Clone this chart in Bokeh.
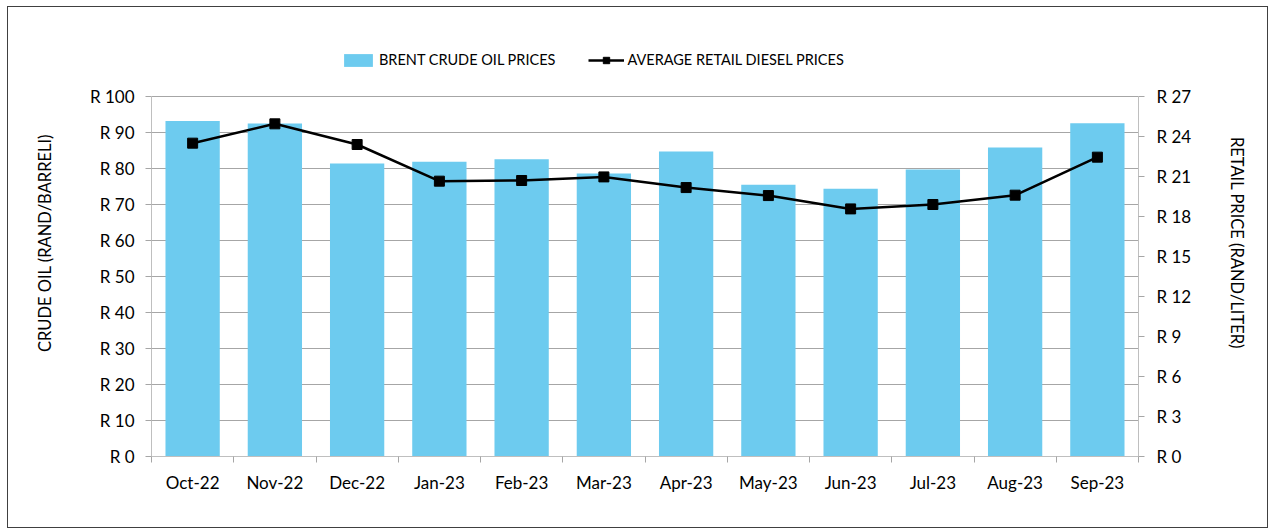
from bokeh.plotting import figure
from bokeh.models import (Range1d, LinearAxis, FixedTicker, PrintfTickFormatter, Legend,
                          LegendItem, ColumnDataSource)
from bokeh.embed import file_html
from bokeh.resources import INLINE

# ---- data ----
months = ["Oct-22", "Nov-22", "Dec-22", "Jan-23", "Feb-23", "Mar-23",
          "Apr-23", "May-23", "Jun-23", "Jul-23", "Aug-23", "Sep-23"]
brent = [93.2, 92.5, 81.4, 81.9, 82.6, 78.6, 84.7, 75.5, 74.4, 79.7, 85.8, 92.6]
diesel = [23.5, 24.95, 23.4, 20.65, 20.7, 20.97, 20.17, 19.57, 18.57, 18.9, 19.6, 22.45]
left_ticks = [0, 10, 20, 30, 40, 50, 60, 70, 80, 90, 100]
right_ticks = [0, 3, 6, 9, 12, 15, 18, 21, 24, 27]
bar_label = "BRENT CRUDE OIL PRICES"
line_label = "AVERAGE RETAIL DIESEL PRICES"
left_title = "CRUDE OIL (RAND/BARRELI)"
right_title = "RETAIL PRICE (RAND/LITER)"

FONT = "Lato"
BAR = "#6DCBEF"
GRID = "#A6A6A6"
AXIS = "#BFBFBF"

n = len(months)
centers = [i + 0.5 for i in range(n)]          # category slots on the x scale
edges = list(range(n + 1))                     # category boundaries (tick marks)
src = ColumnDataSource(dict(x=centers, month=months, brent=brent, diesel=diesel))

# frame is taller than the axes so the legend can sit inside it
FRAME_H, AXIS_H = 427, 360
stretch = FRAME_H / AXIS_H
lmax, rmax = left_ticks[-1], right_ticks[-1]

W, H = 1261, 522
p = figure(width=W, height=H, x_range=Range1d(0, n), y_range=Range1d(0, lmax * stretch),
           output_backend="svg", toolbar_location=None, x_axis_location=None,
           min_border_left=143, min_border_right=131, min_border_top=22, min_border_bottom=73)
p.styles = {"border": "1px solid #404040", "margin-left": "7px", "margin-top": "6px"}
p.outline_line_color = None
p.background_fill_color = "white"
p.border_fill_color = "white"
p.xgrid.visible = False

# left axis
lt = FixedTicker(ticks=left_ticks)
ya = p.yaxis[0]
ya.ticker = lt
ya.bounds = (left_ticks[0], lmax)
ya.formatter = PrintfTickFormatter(format="R %d")
ya.major_tick_out = 6
ya.major_tick_in = 0
ya.minor_tick_line_color = None
ya.axis_line_color = AXIS
ya.major_tick_line_color = GRID
ya.major_label_standoff = 11
ya.major_label_text_font = FONT
ya.major_label_text_font_size = "17px"
ya.major_label_text_color = "black"
ya.axis_label = left_title
ya.axis_label_standoff = 32
ya.axis_label_text_font = FONT
ya.axis_label_text_font_size = "16.5px"
ya.axis_label_text_font_style = "normal"
ya.axis_label_text_color = "black"
p.ygrid.ticker = lt
p.ygrid.grid_line_color = GRID

# right axis
p.extra_y_ranges = {"right": Range1d(0, rmax * stretch)}
ra = LinearAxis(y_range_name="right", ticker=FixedTicker(ticks=right_ticks),
                bounds=(right_ticks[0], rmax),
                formatter=PrintfTickFormatter(format="R %d"),
                major_tick_out=6, major_tick_in=0, minor_tick_line_color=None,
                axis_line_color=AXIS, major_tick_line_color=GRID,
                major_label_standoff=12, major_label_text_font=FONT,
                major_label_text_font_size="17px", major_label_text_color="black",
                axis_label=right_title, axis_label_standoff=33, axis_label_text_font=FONT,
                axis_label_text_font_size="16.5px", axis_label_text_font_style="normal",
                axis_label_text_color="black")
p.add_layout(ra, "right")

# x axis: labels at category centres, tick marks at category boundaries
xc = LinearAxis(ticker=FixedTicker(ticks=centers, minor_ticks=edges),
                major_label_overrides={c: m for c, m in zip(centers, months)},
                axis_line_color=AXIS, major_tick_line_color=None, major_tick_out=6,
                major_tick_in=0, minor_tick_line_color=GRID, minor_tick_out=6,
                minor_tick_in=0, major_label_standoff=9, major_label_text_font=FONT,
                major_label_text_font_size="17px", major_label_text_color="black")
p.add_layout(xc, "below")

# glyphs
bars = p.vbar(x="x", top="brent", width=0.66, source=src, fill_color=BAR, line_color=None)
ln = p.line(x="x", y="diesel", source=src, y_range_name="right",
            line_color="black", line_width=2.5)
sc = p.scatter(x="x", y="diesel", source=src, y_range_name="right", marker="square",
               size=10, fill_color="black", line_color="black")

legend = Legend(items=[LegendItem(label=bar_label, renderers=[bars]),
                       LegendItem(label=line_label, renderers=[ln, sc])],
                orientation="horizontal", location=(189, 388), padding=0, margin=0,
                border_line_color=None, background_fill_alpha=0,
                glyph_width=36, glyph_height=16, label_standoff=3, spacing=33,
                label_text_font=FONT, label_text_font_size="14.5px", label_text_color="black")
p.add_layout(legend)

open("out.html", "w").write(file_html(p, INLINE))
